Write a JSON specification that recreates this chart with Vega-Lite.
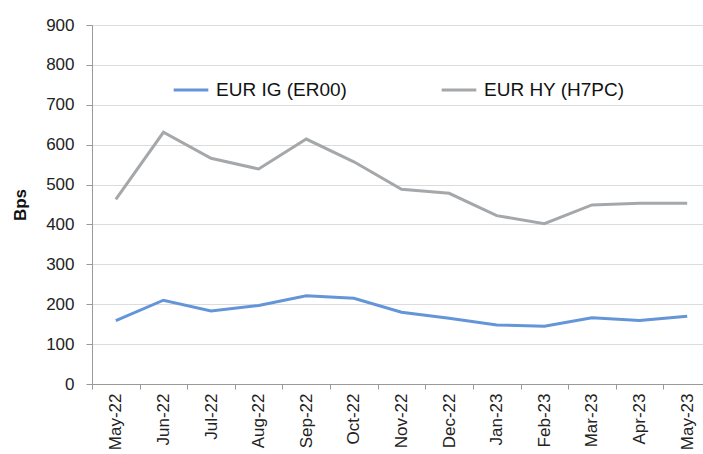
{
  "$schema": "https://vega.github.io/schema/vega-lite/v6.json",
  "width": 619,
  "height": 359,
  "autosize": "none",
  "padding": {"left": 92, "top": 25, "right": 0, "bottom": 70},
  "background": "white",
  "config": {"view": {"stroke": null}, "font": "Liberation Sans"},
  "data": {"values": [
    {"month": "May-22", "series": "EUR IG (ER00)", "bps": 159},
    {"month": "Jun-22", "series": "EUR IG (ER00)", "bps": 210},
    {"month": "Jul-22", "series": "EUR IG (ER00)", "bps": 183},
    {"month": "Aug-22", "series": "EUR IG (ER00)", "bps": 197},
    {"month": "Sep-22", "series": "EUR IG (ER00)", "bps": 221},
    {"month": "Oct-22", "series": "EUR IG (ER00)", "bps": 215},
    {"month": "Nov-22", "series": "EUR IG (ER00)", "bps": 180},
    {"month": "Dec-22", "series": "EUR IG (ER00)", "bps": 165},
    {"month": "Jan-23", "series": "EUR IG (ER00)", "bps": 148},
    {"month": "Feb-23", "series": "EUR IG (ER00)", "bps": 145},
    {"month": "Mar-23", "series": "EUR IG (ER00)", "bps": 166},
    {"month": "Apr-23", "series": "EUR IG (ER00)", "bps": 159},
    {"month": "May-23", "series": "EUR IG (ER00)", "bps": 170},
    {"month": "May-22", "series": "EUR HY (H7PC)", "bps": 463},
    {"month": "Jun-22", "series": "EUR HY (H7PC)", "bps": 631},
    {"month": "Jul-22", "series": "EUR HY (H7PC)", "bps": 566},
    {"month": "Aug-22", "series": "EUR HY (H7PC)", "bps": 539},
    {"month": "Sep-22", "series": "EUR HY (H7PC)", "bps": 614},
    {"month": "Oct-22", "series": "EUR HY (H7PC)", "bps": 557},
    {"month": "Nov-22", "series": "EUR HY (H7PC)", "bps": 488},
    {"month": "Dec-22", "series": "EUR HY (H7PC)", "bps": 478},
    {"month": "Jan-23", "series": "EUR HY (H7PC)", "bps": 422},
    {"month": "Feb-23", "series": "EUR HY (H7PC)", "bps": 402},
    {"month": "Mar-23", "series": "EUR HY (H7PC)", "bps": 449},
    {"month": "Apr-23", "series": "EUR HY (H7PC)", "bps": 453},
    {"month": "May-23", "series": "EUR HY (H7PC)", "bps": 453}
  ]},
  "mark": {"type": "line", "strokeWidth": 3},
  "encoding": {
    "x": {
      "field": "month", "type": "ordinal", "sort": null,
      "scale": {"type": "band", "paddingInner": 0, "paddingOuter": 0},
      "axis": {
        "title": null, "labelAngle": -90, "labelAlign": "right", "labelBaseline": "middle",
        "labelFontSize": 17, "labelColor": "#222", "labelPadding": 4,
        "tickBand": "extent", "tickSize": 5, "tickColor": "#999", "domainColor": "#999",
        "grid": false
      }
    },
    "y": {
      "field": "bps", "type": "quantitative",
      "scale": {"domain": [0, 900], "nice": false},
      "axis": {
        "title": "Bps", "titleFontSize": 17, "titleFontWeight": "bold", "titleColor": "#111",
        "titlePadding": 16,
        "values": [0, 100, 200, 300, 400, 500, 600, 700, 800, 900],
        "labelFontSize": 17, "labelColor": "#222", "labelPadding": 12,
        "tickSize": 6, "tickColor": "#999", "domainColor": "#999",
        "grid": true, "gridColor": "#dcdcdc", "gridWidth": 1
      }
    },
    "color": {
      "field": "series", "type": "nominal",
      "sort": ["EUR IG (ER00)", "EUR HY (H7PC)"],
      "scale": {"domain": ["EUR IG (ER00)", "EUR HY (H7PC)"], "range": ["#6495d8", "#a5a8aa"]},
      "legend": {
        "title": null, "orient": "none", "legendX": 80, "legendY": 46,
        "direction": "horizontal", "symbolType": "stroke", "symbolSize": 1200,
        "symbolStrokeWidth": 3, "labelFontSize": 19, "labelColor": "#111",
        "columnPadding": 88, "labelOffset": 6
      }
    }
  }
}
